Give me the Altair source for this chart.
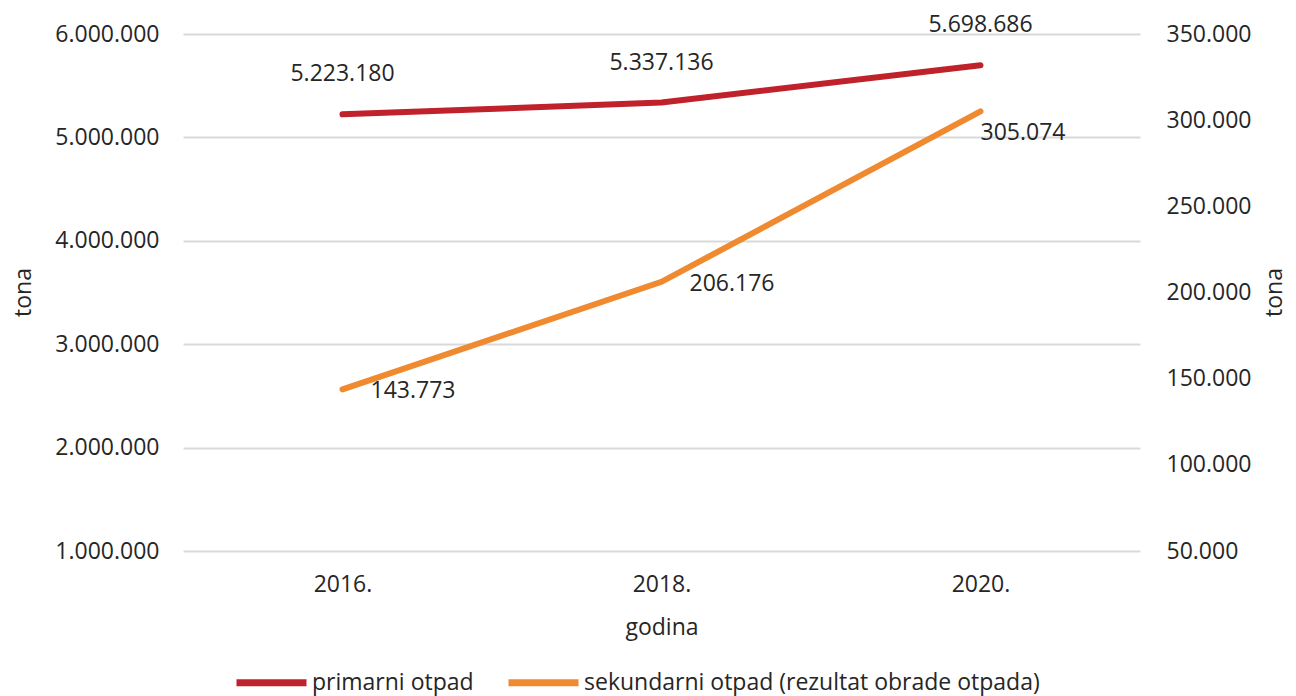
import altair as alt
import pandas as pd

years = ["2016.", "2018.", "2020."]
primarni = [5223180, 5337136, 5698686]
sekundarni = [143773, 206176, 305074]
series = ["primarni otpad", "sekundarni otpad (rezultat obrade otpada)"]
colors = ["#C0222B", "#F08A30"]

def fmt(v):
    return f"{v:,}".replace(",", ".")

df1 = pd.DataFrame({"godina": years, "v": primarni, "serija": series[0],
                    "lab": [fmt(v) for v in primarni]})
df2 = pd.DataFrame({"godina": years, "v": sekundarni, "serija": series[1],
                    "lab": [fmt(v) for v in sekundarni]})

FONT = "Open Sans"
FS = 23
TXT = "#262626"

x = alt.X("godina:O", sort=years,
          scale=alt.Scale(type="point", padding=0.5),
          axis=alt.Axis(title="godina", labelAngle=0, ticks=False, domain=False,
                        labelPadding=22, titlePadding=20, grid=False))
color = alt.Color("serija:N", scale=alt.Scale(domain=series, range=colors),
                  legend=alt.Legend(title=None, orient="none", direction="horizontal",
                                    legendX=50, legendY=610,
                                    symbolType="stroke", symbolStrokeWidth=7,
                                    symbolSize=4900, labelLimit=1000,
                                    columnPadding=20, labelOffset=2))

y1 = alt.Y("v:Q", scale=alt.Scale(domain=[1000000, 6000000], nice=False, zero=False),
           axis=alt.Axis(title="tona", orient="left", values=[1e6, 2e6, 3e6, 4e6, 5e6, 6e6],
                         format=",.0f", ticks=False, domain=False, labelPadding=24,
                         titleX=-148, titleY=258, grid=True, gridColor="#D9D9D9", gridWidth=2))
y2 = alt.Y("v:Q", scale=alt.Scale(domain=[50000, 350000], nice=False, zero=False),
           axis=alt.Axis(title="tona", orient="right",
                         values=[50000, 100000, 150000, 200000, 250000, 300000, 350000],
                         format=",.0f", ticks=False, domain=False, labelPadding=26,
                         titleX=146, titleY=258, titleAngle=270, grid=False))

base1 = alt.Chart(df1)
line1 = base1.mark_line(strokeWidth=6, strokeCap="round").encode(x=x, y=y1, color=color)
text1 = base1.mark_text(font=FONT, fontSize=FS, color=TXT, dy=-40).encode(
    x=x, y=y1, text="lab:N")
layer1 = alt.layer(line1, text1)

base2 = alt.Chart(df2)
line2 = base2.mark_line(strokeWidth=6, strokeCap="round").encode(x=x, y=y2, color=color)
text2a = base2.transform_filter(alt.datum.godina != "2020.").mark_text(
    font=FONT, fontSize=FS, color=TXT, align="left", dx=28, dy=2).encode(
    x=x, y=y2, text="lab:N")
text2b = base2.transform_filter(alt.datum.godina == "2020.").mark_text(
    font=FONT, fontSize=FS, color=TXT, align="left", dx=0, dy=22).encode(
    x=x, y=y2, text="lab:N")
layer2 = alt.layer(line2, text2a, text2b)

chart = alt.layer(layer1, layer2).resolve_scale(y="independent").properties(
    width=957, height=517,
    autosize=alt.AutoSizeParams(type="none"),
    padding={"left": 175, "top": 26, "right": 148, "bottom": 145},
).configure(
    locale={"number": {"decimal": ",", "thousands": ".", "grouping": [3],
                       "currency": ["", ""]}},
    font=FONT,
).configure_axis(
    labelFont=FONT, labelFontSize=FS, labelColor=TXT,
    titleFont=FONT, titleFontSize=FS, titleColor=TXT, titleFontWeight="normal",
).configure_legend(
    labelFont=FONT, labelFontSize=FS, labelColor=TXT,
).configure_view(stroke=None)

chart.save("out.html", embed_options={"renderer": "svg", "actions": False})
